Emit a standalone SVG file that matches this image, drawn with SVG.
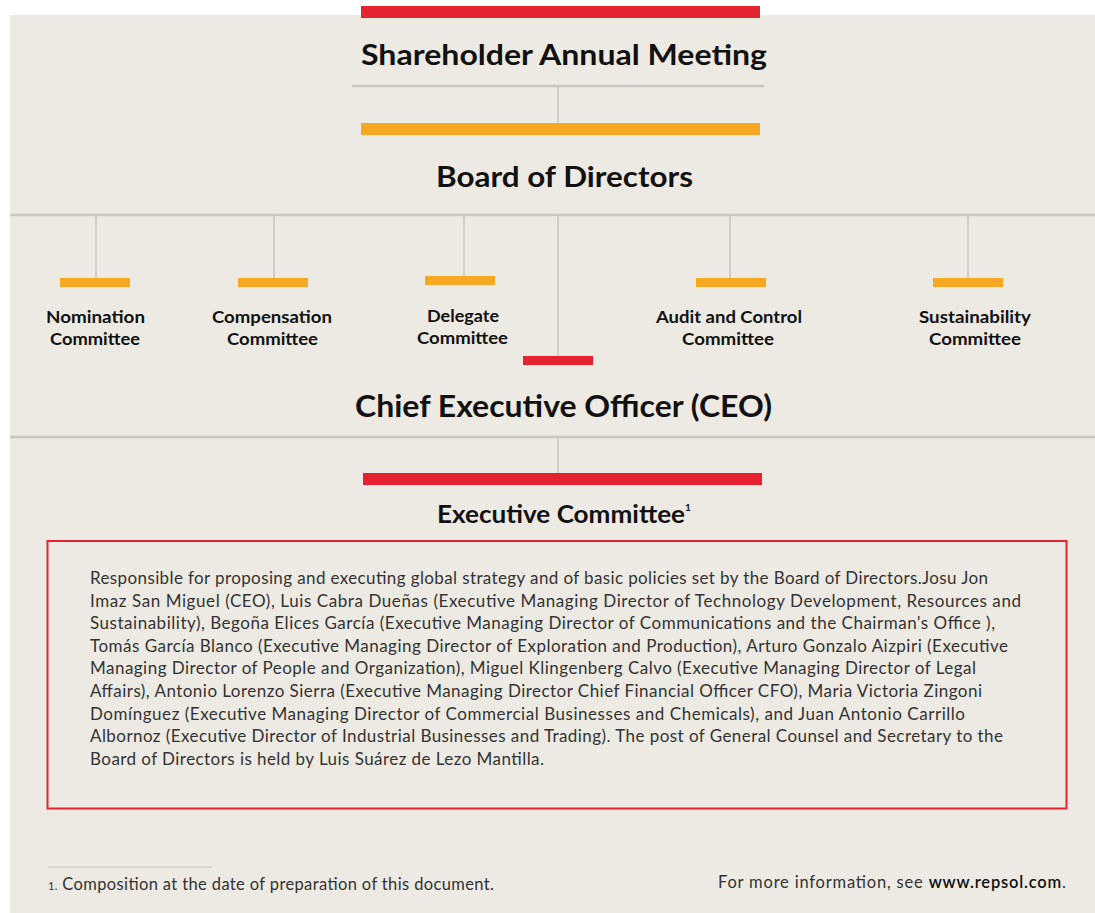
<svg xmlns="http://www.w3.org/2000/svg" width="1095" height="913" viewBox="0 0 1095 913">
<style>
.bg{fill:#EDEAE3}
.red{fill:#E52330}
.org{fill:#F7A823}
.hl{stroke:#CBC6BF;stroke-width:2.5;fill:none}
.vl{stroke:#C8C3BC;stroke-width:1.5;fill:none}
.t1{font-family:Lato,"Liberation Sans",sans-serif;font-weight:bold;fill:#111;text-anchor:middle}
.cm{font-family:Lato,"Liberation Sans",sans-serif;font-weight:bold;font-size:17px;fill:#111;text-anchor:middle}
.p{font-family:Lato,"Liberation Sans",sans-serif;font-size:17px;fill:#333}
.f{font-family:Lato,"Liberation Sans",sans-serif;font-size:16.5px;fill:#333}
</style>
<rect x="0" y="0" width="1095" height="913" fill="#fff"/>
<rect class="bg" x="10" y="15" width="1085" height="898"/>
<g id="connectors">
<line class="hl" x1="352" y1="86" x2="764" y2="86"/>
<line class="vl" x1="558" y1="86" x2="558" y2="123"/>
<line class="hl" x1="10" y1="215" x2="1095" y2="215"/>
<line class="vl" x1="96" y1="215" x2="96" y2="278"/>
<line class="vl" x1="274" y1="215" x2="274" y2="278"/>
<line class="vl" x1="464" y1="215" x2="464" y2="276"/>
<line class="vl" x1="558" y1="215" x2="558" y2="356"/>
<line class="vl" x1="730" y1="215" x2="730" y2="278"/>
<line class="vl" x1="968" y1="215" x2="968" y2="278"/>
<line class="hl" x1="10" y1="437" x2="1095" y2="437"/>
<line class="vl" x1="558" y1="437" x2="558" y2="473"/>
</g>
<g id="shareholders">
<rect class="red" x="361" y="6" width="399" height="12"/>
<text class="t1" x="564" y="65" font-size="28" textLength="406" lengthAdjust="spacingAndGlyphs">Shareholder Annual Meeting</text>
</g>
<g id="board">
<rect class="org" x="361" y="123" width="399" height="12"/>
<text class="t1" x="564.5" y="187" font-size="28" textLength="257" lengthAdjust="spacingAndGlyphs">Board of Directors</text>
</g>
<g id="nomination">
<rect class="org" x="60" y="278" width="70" height="9"/>
<text class="cm" x="95.5" y="323" textLength="99" lengthAdjust="spacingAndGlyphs">Nomination</text>
<text class="cm" x="95" y="345" textLength="90" lengthAdjust="spacingAndGlyphs">Committee</text>
</g>
<g id="compensation">
<rect class="org" x="238" y="278" width="70" height="9"/>
<text class="cm" x="272" y="323" textLength="120" lengthAdjust="spacingAndGlyphs">Compensation</text>
<text class="cm" x="272.5" y="345" textLength="91" lengthAdjust="spacingAndGlyphs">Committee</text>
</g>
<g id="delegate">
<rect class="org" x="425" y="276" width="70" height="9"/>
<text class="cm" x="463" y="322" textLength="72" lengthAdjust="spacingAndGlyphs">Delegate</text>
<text class="cm" x="462.5" y="344" textLength="91" lengthAdjust="spacingAndGlyphs">Committee</text>
</g>
<g id="audit">
<rect class="org" x="696" y="278" width="70" height="9"/>
<text class="cm" x="729" y="323" textLength="146" lengthAdjust="spacingAndGlyphs">Audit and Control</text>
<text class="cm" x="728" y="345" textLength="92" lengthAdjust="spacingAndGlyphs">Committee</text>
</g>
<g id="sustainability">
<rect class="org" x="933" y="278" width="70" height="9"/>
<text class="cm" x="975" y="323" textLength="112" lengthAdjust="spacingAndGlyphs">Sustainability</text>
<text class="cm" x="975" y="345" textLength="92" lengthAdjust="spacingAndGlyphs">Committee</text>
</g>
<g id="ceo">
<rect class="red" x="523" y="356" width="70" height="9"/>
<text class="t1" x="563.5" y="417" font-size="31" textLength="417" lengthAdjust="spacingAndGlyphs">Chief Executive Officer (CEO)</text>
</g>
<g id="executive-committee">
<rect class="red" x="363" y="473" width="399" height="12"/>
<text class="t1" x="561" y="523" font-size="25" textLength="248" lengthAdjust="spacingAndGlyphs">Executive Committee</text>
<text class="t1" x="688" y="511" font-size="10">1</text>
<rect x="47.5" y="541" width="1019" height="267.5" fill="none" stroke="#E52330" stroke-width="2"/>
<text class="p" x="90" y="584" textLength="898" lengthAdjust="spacing">Responsible for proposing and executing global strategy and of basic policies set by the Board of Directors.Josu Jon</text>
<text class="p" x="90" y="606.6" textLength="931" lengthAdjust="spacing">Imaz San Miguel (CEO), Luis Cabra Dueñas (Executive Managing Director of Technology Development, Resources and</text>
<text class="p" x="90" y="629.2" textLength="905" lengthAdjust="spacing">Sustainability), Begoña Elices García (Executive Managing Director of Communications and the Chairman's Office ),</text>
<text class="p" x="90" y="651.8" textLength="918" lengthAdjust="spacing">Tomás García Blanco (Executive Managing Director of Exploration and Production), Arturo Gonzalo Aizpiri (Executive</text>
<text class="p" x="90" y="674.4" textLength="886" lengthAdjust="spacing">Managing Director of People and Organization), Miguel Klingenberg Calvo (Executive Managing Director of Legal</text>
<text class="p" x="90" y="697" textLength="892" lengthAdjust="spacing">Affairs), Antonio Lorenzo Sierra (Executive Managing Director Chief Financial Officer CFO), Maria Victoria Zingoni</text>
<text class="p" x="90" y="719.6" textLength="875" lengthAdjust="spacing">Domínguez (Executive Managing Director of Commercial Businesses and Chemicals), and Juan Antonio Carrillo</text>
<text class="p" x="90" y="742.2" textLength="913" lengthAdjust="spacing">Albornoz (Executive Director of Industrial Businesses and Trading). The post of General Counsel and Secretary to the</text>
<text class="p" x="90" y="764.8" textLength="454" lengthAdjust="spacing">Board of Directors is held by Luis Suárez de Lezo Mantilla.</text>
</g>
<g id="footer">
<line x1="48" y1="867" x2="212" y2="867" stroke="#C4BFB5" stroke-width="1"/>
<text class="f" x="48" y="890" textLength="446" lengthAdjust="spacing"><tspan font-size="11">1.</tspan> Composition at the date of preparation of this document.</text>
<text class="f" x="718" y="888" font-size="17.5" textLength="348" lengthAdjust="spacing">For more information, see <tspan fill="#111" font-weight="600">www.repsol.com</tspan>.</text>
</g>
</svg>
